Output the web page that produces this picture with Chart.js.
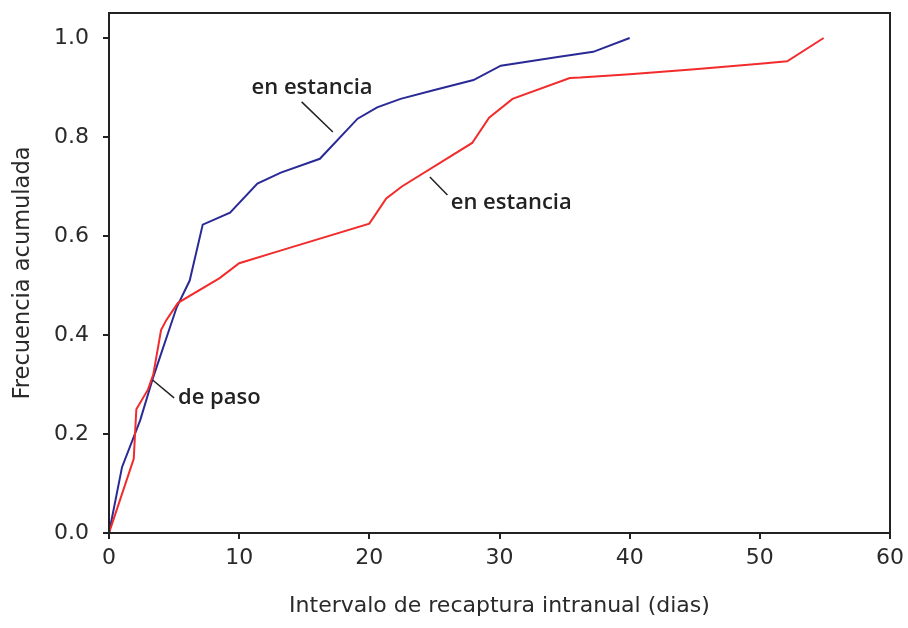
<!DOCTYPE html>
<html>
<head>
<meta charset="utf-8">
<script src="https://cdn.jsdelivr.net/npm/chart.js@4.4.1/dist/chart.umd.min.js"></script>
<style>
  html, body { margin: 0; padding: 0; background: #fff; }
  #wrap { width: 908px; height: 628px; position: relative; }
</style>
</head>
<body>
<div id="wrap"><canvas id="chart"></canvas></div>
<script>
/*Data - blue curve (en estancia, upper)*/
var blueX = [0, 1.0, 2.4, 3.4, 5.2, 6.2, 7.2, 9.3, 11.4, 13.2, 16.2, 19.1, 20.6, 22.4, 25.0, 28.0, 30.1, 34.6, 37.2, 40.0];
var blueY = [0, 0.133, 0.228, 0.315, 0.456, 0.51, 0.623, 0.647, 0.706, 0.728, 0.756, 0.837, 0.86, 0.877, 0.895, 0.915, 0.944, 0.962, 0.972, 1.0];

/*Data - red curve (de paso / en estancia, lower)*/
var redX = [0, 1.9, 2.1, 3.0, 3.4, 4.0, 4.4, 5.3, 8.5, 10.0, 13.1, 20.0, 21.3, 22.5, 27.9, 29.2, 31.0, 35.4, 36.2, 40.0, 45.0, 50.0, 52.1, 54.9];
var redY = [0, 0.15, 0.25, 0.29, 0.32, 0.41, 0.43, 0.465, 0.515, 0.545, 0.57, 0.625, 0.676, 0.7, 0.788, 0.839, 0.877, 0.919, 0.92, 0.927, 0.937, 0.948, 0.953, 1.0];

/*Axis ticks*/
var xTicks = [0, 10, 20, 30, 40, 50, 60];
var yTicks = [0, 0.2, 0.4, 0.6, 0.8, 1.0];

/*Annotations: label text, label position, leader line (data coords)*/
var noteText = ['en estancia', 'en estancia', 'de paso'];
var noteAt = [[15.6, 0.899], [30.9, 0.667], [5.3, 0.273]];
var noteAlign = ['center', 'center', 'left'];
var noteLine = [[[14.8, 0.871], [17.2, 0.81]], [[24.65, 0.719], [26.0, 0.683]], [[3.35, 0.309], [5.0, 0.273]]];

function toPoints(xs, ys) {
    return xs.map(function(x, i) { return {x: x, y: ys[i]}; });
}

var axisFont = {family: 'DejaVu Sans', size: 22};
var inkColor = '#2a2a2a';

/*Frame + annotation plugin*/
var framePlugin = {
    id: 'frame',
    afterDraw: function(chart) {
        var ctx = chart.ctx, a = chart.chartArea;
        var sx = chart.scales.x, sy = chart.scales.y;
        ctx.save();
        ctx.strokeStyle = '#222';
        ctx.lineWidth = 2;
        ctx.strokeRect(a.left, a.top, a.right - a.left, a.bottom - a.top);

        ctx.fillStyle = '#222';
        ctx.font = '600 22px "Open Sans"';
        ctx.textBaseline = 'middle';
        noteText.forEach(function(t, i) {
            ctx.textAlign = noteAlign[i];
            ctx.fillText(t, sx.getPixelForValue(noteAt[i][0]), sy.getPixelForValue(noteAt[i][1]));
            var l = noteLine[i];
            ctx.lineWidth = 1.5;
            ctx.beginPath();
            ctx.moveTo(sx.getPixelForValue(l[0][0]), sy.getPixelForValue(l[0][1]));
            ctx.lineTo(sx.getPixelForValue(l[1][0]), sy.getPixelForValue(l[1][1]));
            ctx.stroke();
        });
        ctx.restore();
    }
};

new Chart(document.getElementById('chart'), {
    type: 'scatter',
    data: {
        datasets: [{
            data: toPoints(redX, redY),
            showLine: true,
            borderColor: '#f22b2b',
            borderWidth: 2,
            pointRadius: 0,
            tension: 0
        }, {
            data: toPoints(blueX, blueY),
            showLine: true,
            borderColor: '#2a2a96',
            borderWidth: 2,
            pointRadius: 0,
            tension: 0
        }]
    },
    options: {
        responsive: true,
        maintainAspectRatio: false,
        animation: false,
        layout: {padding: {top: 13, right: 18, left: 0, bottom: 0}},
        plugins: {legend: {display: false}, tooltip: {enabled: false}},
        scales: {
            x: {
                type: 'linear',
                min: 0,
                max: 60,
                afterFit: function(scale) {
                    scale.height = 95;
                    scale.paddingLeft = 0;
                    scale.paddingRight = 0;
                },
                afterBuildTicks: function(scale) {
                    scale.ticks = xTicks.map(function(v) { return {value: v}; });
                },
                border: {display: false},
                grid: {drawOnChartArea: false, drawTicks: true, tickLength: 6, color: '#222', lineWidth: 2},
                ticks: {font: axisFont, color: inkColor, padding: 6, maxRotation: 0},
                title: {
                    display: true,
                    text: 'Intervalo de recaptura intranual (dias)',
                    font: axisFont,
                    color: inkColor,
                    padding: {top: 0, bottom: 9}
                }
            },
            y: {
                type: 'linear',
                min: 0,
                max: 1.0505,
                afterFit: function(scale) {
                    scale.width = 109;
                    scale.paddingTop = 0;
                    scale.paddingBottom = 0;
                },
                afterBuildTicks: function(scale) {
                    scale.ticks = yTicks.map(function(v) { return {value: v}; });
                },
                border: {display: false},
                grid: {drawOnChartArea: false, drawTicks: true, tickLength: 6, color: '#222', lineWidth: 2},
                ticks: {
                    font: axisFont,
                    color: inkColor,
                    padding: 14,
                    callback: function(v) { return v.toFixed(1); }
                },
                title: {
                    display: true,
                    text: 'Frecuencia acumulada',
                    font: {family: 'DejaVu Sans', size: 22.5},
                    color: inkColor,
                    padding: {top: 10, bottom: 0}
                }
            }
        }
    },
    plugins: [framePlugin]
});
</script>
</body>
</html>
